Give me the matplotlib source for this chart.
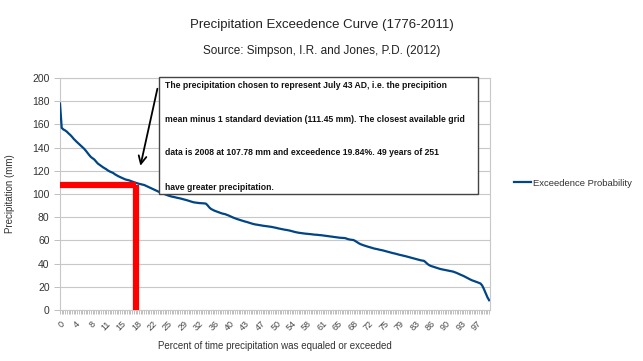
import matplotlib
matplotlib.use('Agg')
import matplotlib.pyplot as plt
from matplotlib.patches import Rectangle

# precipitation (mm) sorted from highest to lowest
precip = [
    178.0, 157.0, 155.6, 154.8, 153.7, 152.2, 150.9, 149.3, 147.5, 146.0,
    144.6, 143.2, 141.8, 140.4, 139.1, 137.4, 135.5, 133.6, 131.9, 130.8,
    129.7, 128.0, 126.3, 125.2, 124.0, 123.1, 122.2, 121.3, 120.2, 119.4,
    118.8, 118.1, 117.0, 116.1, 115.3, 114.6, 113.9, 113.2, 112.6, 112.2,
    111.9, 111.3, 110.8, 110.2, 109.7, 109.2, 108.8, 108.5, 108.1, 107.8,
    107.1, 106.4, 105.6, 104.9, 104.2, 103.5, 102.9, 102.2, 101.6, 101.0,
    100.5, 99.9, 99.3, 98.7, 98.2, 97.8, 97.5, 97.2, 96.8, 96.5,
    96.2, 95.8, 95.4, 95.0, 94.6, 94.1, 93.7, 93.2, 92.8, 92.6,
    92.4, 92.2, 92.1, 92.0, 91.9, 91.7, 90.2, 88.4, 87.1, 86.3,
    85.6, 85.1, 84.5, 83.9, 83.4, 83.0, 82.7, 82.2, 81.6, 80.9,
    80.2, 79.6, 79.0, 78.5, 78.0, 77.6, 77.1, 76.6, 76.2, 75.8,
    75.3, 74.9, 74.4, 74.0, 73.7, 73.5, 73.2, 73.0, 72.7, 72.5,
    72.3, 72.1, 71.9, 71.7, 71.4, 71.1, 70.8, 70.4, 70.1, 69.8,
    69.5, 69.2, 69.0, 68.7, 68.4, 68.0, 67.6, 67.2, 66.9, 66.6,
    66.4, 66.2, 66.0, 65.8, 65.7, 65.5, 65.4, 65.2, 65.0, 64.9,
    64.8, 64.6, 64.5, 64.3, 64.1, 63.9, 63.7, 63.5, 63.3, 63.1,
    62.9, 62.7, 62.5, 62.3, 62.2, 62.1, 62.0, 61.5, 61.0, 60.7,
    60.5, 60.3, 59.5, 58.5, 57.6, 56.8, 56.2, 55.7, 55.2, 54.8,
    54.3, 53.9, 53.4, 53.0, 52.7, 52.4, 52.0, 51.7, 51.4, 51.0,
    50.6, 50.2, 49.8, 49.4, 49.0, 48.7, 48.3, 47.9, 47.5, 47.2,
    46.8, 46.5, 46.1, 45.7, 45.3, 44.9, 44.5, 44.1, 43.7, 43.3,
    42.9, 42.6, 42.4, 41.2, 39.8, 38.7, 38.0, 37.5, 37.0, 36.5,
    36.0, 35.6, 35.2, 34.9, 34.6, 34.3, 34.0, 33.7, 33.4, 33.1,
    32.6, 32.0, 31.3, 30.6, 30.0, 29.4, 28.6, 27.8, 27.0, 26.3,
    25.6, 25.1, 24.5, 24.0, 23.4, 22.8, 21.0, 17.9, 14.5, 11.0,
    8.4,
]
tick_labels = ['0', '4', '8', '11', '15', '18', '22', '25', '29', '32', '36', '40', '43', '47',
               '50', '54', '58', '61', '65', '68', '72', '75', '79', '83', '86', '90', '93', '97']
tick_step = 9

# hand-drawn red marker (category index and precipitation level)
chosen_index = 44.3
chosen_value = 108

note_lines = [
    'The precipitation chosen to represent July 43 AD, i.e. the precipition',
    'mean minus 1 standard deviation (111.45 mm). The closest available grid',
    'data is 2008 at 107.78 mm and exceedence 19.84%. 49 years of 251',
    'have greater precipitation.',
]

plt.rcParams['font.family'] = ['Liberation Sans', 'DejaVu Sans']

fig = plt.figure(figsize=(6.43, 3.61), dpi=100)
W, H = 643, 361
ax = fig.add_axes([60 / W, 1 - 310 / H, 430 / W, 232 / H])

x = list(range(len(precip)))
line, = ax.plot(x, precip, color='#004586', lw=1.6, label='Exceedence Probability', zorder=3)

ax.plot([0, chosen_index], [chosen_value, chosen_value], color='#ff0000', lw=4.5, zorder=4,
        solid_capstyle='butt')
ax.plot([chosen_index, chosen_index], [0, chosen_value], color='#ff0000', lw=4.5, zorder=4,
        solid_capstyle='butt')

ax.set_xlim(0, len(precip) - 0.5)
ax.set_ylim(0, 200)
ax.set_yticks(range(0, 201, 20))
ax.yaxis.grid(True, color='#c8c8c8', lw=0.8)
ax.set_axisbelow(True)
ax.set_xticks([i * tick_step for i in range(len(tick_labels))])
ax.set_xticklabels(tick_labels, rotation=45, ha='right', va='top', rotation_mode='anchor')
ax.set_xticks(x, minor=True)
ax.tick_params(axis='x', which='both', colors='#b4b4b4', labelcolor='#444444', labelsize=6.5,
               length=3, width=0.6)
ax.tick_params(axis='y', colors='#b4b4b4', labelcolor='#333333', labelsize=7.5, length=4, width=0.6)
for s in ax.spines.values():
    s.set_color('#c8c8c8')
    s.set_linewidth(0.8)

ax.set_xlabel('Percent of time precipitation was equaled or exceeded', fontsize=7, color='#333333',
              labelpad=6)
ax.set_ylabel('Precipitation (mm)', fontsize=7, color='#333333', labelpad=12)

fig.text(0.5, 1 - 25 / H, 'Precipitation Exceedence Curve (1776-2011)', ha='center', va='center',
         fontsize=9.5, color='#222222')
fig.text(0.5, 1 - 51 / H, 'Source: Simpson, I.R. and Jones, P.D. (2012)', ha='center', va='center',
         fontsize=8.5, color='#222222')

# annotation box
box = Rectangle((159 / W, 1 - 194 / H), (478 - 159) / W, (194 - 77) / H, transform=fig.transFigure,
                facecolor='white', edgecolor='#444444', lw=1.0, zorder=5)
fig.patches.append(box)
for k, txt in enumerate(note_lines):
    fig.text(165 / W, 1 - (85 + k * 34) / H, txt, ha='left', va='center', fontsize=6.2,
             fontweight='bold', color='#111111', zorder=6)

ax.annotate('', xy=(46.5, 122), xytext=(158, H - 86), textcoords='figure pixels',
            arrowprops=dict(arrowstyle='->', color='black', lw=1.3, mutation_scale=14), zorder=6)

fig.legend(handles=[line], loc='center left', bbox_to_anchor=(514 / W, 1 - 183 / H), frameon=False,
           fontsize=6.8, handlelength=1.8, handletextpad=0.2, labelcolor='#333333',
           borderpad=0, borderaxespad=0)

fig.savefig('out.png', dpi=100)
